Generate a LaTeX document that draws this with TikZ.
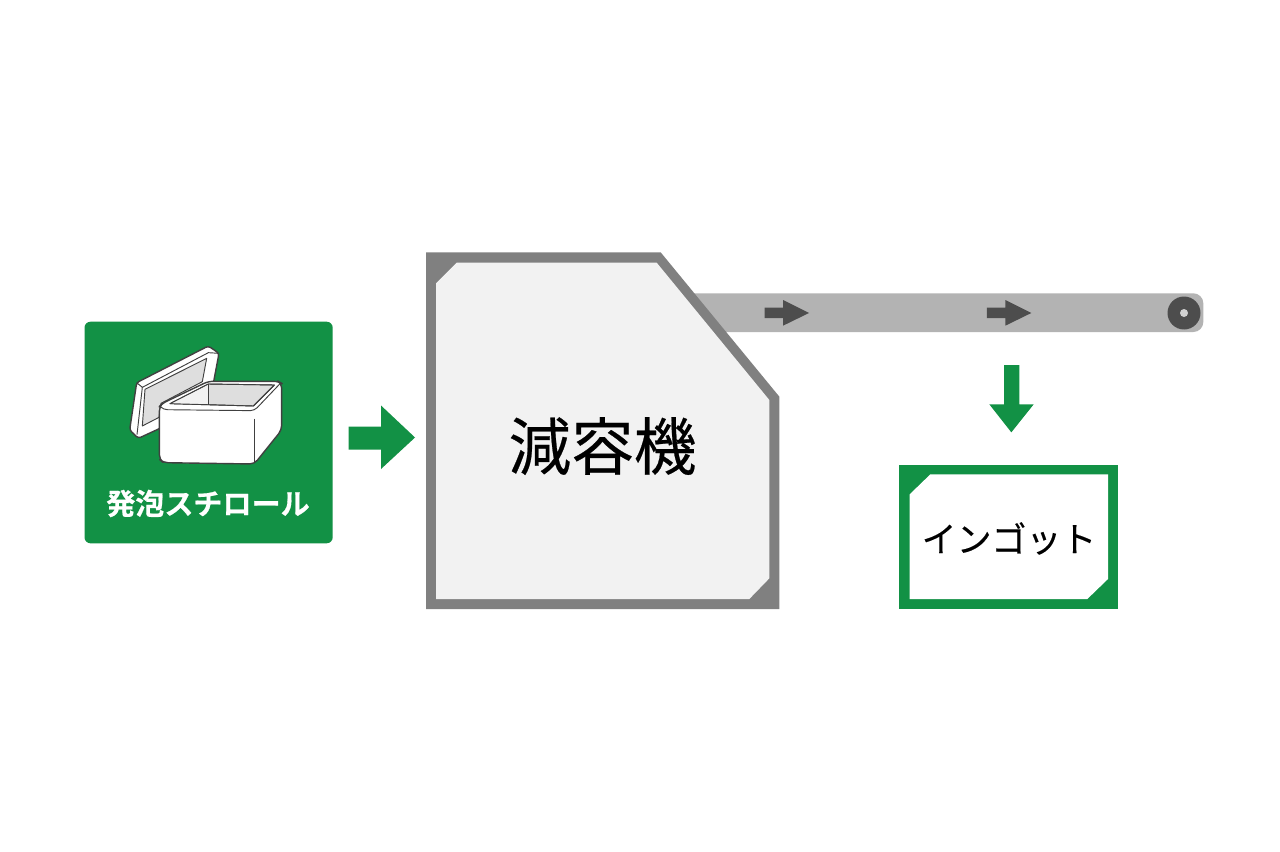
\documentclass[tikz,border=0pt]{standalone}
\usepackage{fontspec}
\setmainfont[FakeBold=0.35]{Noto Sans CJK JP}
\newfontfamily\jpbold[FakeBold=0.5]{Noto Sans CJK JP Bold}
\definecolor{grn}{HTML}{129145}
\definecolor{gframe}{HTML}{808080}
\definecolor{gfill}{HTML}{F2F2F2}
\definecolor{boxin}{HTML}{DEDEDE}
\definecolor{belt}{HTML}{B3B3B3}
\definecolor{dk}{HTML}{4D4D4D}
\definecolor{boxln}{HTML}{404040}
\tikzset{
  boxline/.style={draw=boxln,line width=1.05pt,line join=round},
  boxthin/.style={draw=boxln,line width=0.7pt,line join=round},
  zoomE/.style={shift={(125,340)},x=0.25pt,y=-0.25pt},
  zoomB/.style={shift={(420,245)},x=0.25pt,y=-0.25pt},
  zoomC/.style={shift={(890,285)},x=0.25pt,y=-0.25pt},
}
\begin{document}
\begin{tikzpicture}[x=0.75pt,y=-0.75pt]
\useasboundingbox (0,0) rectangle (1280,852);
\fill[white] (0,0) rectangle (1280,852);
% source panel
\fill[grn,rounded corners=4.5pt] (84.5,321.7) rectangle (332.7,543.3);
\begin{scope}[zoomE]
% box: lid
\filldraw[fill=white,boxline,rounded corners=2pt] (35,128) -- (250,18) -- (282,40) -- (265,130) -- (105,265) -- (40,295) -- (14,270) -- cycle;
\filldraw[fill=boxin,boxthin] (60,148) -- (245,55) -- (232,125) -- (108,190) -- (102,232) -- (52,258) -- cycle;
\draw[boxthin] (35,128) -- (52,142) -- (36,284);
\draw[boxthin] (52,142) -- (250,38) -- (282,40);
% box: body
\filldraw[fill=white,boxline,rounded corners=3.5pt] (103,200) -- (103,358) -- (115,368) -- (388,372) -- (470,270) -- (470,130) -- (460,124) -- (250,124) -- (112,190) -- cycle;
\filldraw[fill=boxin,boxthin] (135,191) -- (250,132) -- (448,135) -- (385,198) -- cycle;
\fill[gfill] (250,134) -- (250,193) -- (135,191) -- cycle;
\draw[boxthin] (135,191) -- (250,132) -- (448,135) -- (385,198) -- cycle;
\draw[boxthin] (250,132) -- (250,196);
\draw[boxthin,rounded corners=3pt] (104,198) -- (115,209) -- (388,212) -- (468,128);
\draw[boxthin] (388,236) -- (388,370);
\end{scope}
\node[text=white,inner sep=0pt,font=\jpbold\fontsize{21.8pt}{24pt}\selectfont] (src) at (208,503.5) {発泡スチロール};
% green arrow to machine
\fill[grn] (348.5,426.5) -- (381,426.5) -- (381,405.5) -- (415,437.5) -- (381,469) -- (381,449.5) -- (348.5,449.5) -- cycle;
% belt
\fill[belt,rounded corners=7.5pt] (670,293.3) rectangle (1203.3,332);
\fill[dk] (1184,313) circle[radius=16.5];
\fill[belt!60!white] (1184,313) circle[radius=4];
\foreach \a in {0,222.3}{
  \fill[dk,shift={(\a,0)}] (764.5,307.7) -- (783,307.7) -- (783,300) -- (809,313) -- (783,325.7) -- (783,318) -- (764.5,318) -- cycle;
}
% machine
\begin{scope}[zoomB]
\fill[gframe] (18,22) -- (722,22) -- (1078,455) -- (1078,1092) -- (18,1092) -- cycle;
\fill[gfill] (48,115) -- (110,53) -- (710,53) -- (1048,465) -- (1048,1000) -- (988,1062) -- (48,1062) -- cycle;
\end{scope}
\node[text=black,inner sep=0pt,font=\fontsize{47pt}{50pt}\selectfont] (mach) at (602.5,446) {減容機};
\begin{scope}[zoomC]
% green arrow down
\fill[grn] (342,240) -- (388,240) -- (388,358) -- (431,358) -- (364,442) -- (298,358) -- (342,358) -- cycle;
\fill[grn] (28,539) rectangle (684,973);
\fill[white] (59,628) -- (121,568) -- (654,568) -- (654,882) -- (592,942) -- (59,942) -- cycle;
\end{scope}
\node[text=black,inner sep=0pt,font=\fontsize{26.2pt}{30pt}\selectfont] (ingot) at (1009,538.5) {インゴット};
\end{tikzpicture}
\end{document}
